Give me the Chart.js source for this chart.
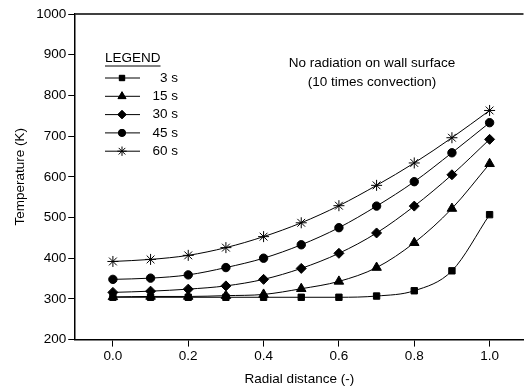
<!DOCTYPE html>
<html>
<head>
<meta charset="utf-8">
<script src="https://cdn.jsdelivr.net/npm/chart.js@4/dist/chart.umd.min.js"></script>
<style>
  html, body { margin: 0; padding: 0; background: #fff; overflow: hidden; }
</style>
</head>
<body>
<canvas id="tempChart" width="530" height="387"></canvas>
<script>
const radial = [0.0, 0.1, 0.2, 0.3, 0.4, 0.5, 0.6, 0.7, 0.8, 0.9, 1.0];
const t3s  = [304, 304, 304, 304, 304, 304, 304, 307, 320, 369, 507];
const t15s = [305, 306, 306, 308, 311, 325, 343, 377, 438, 522, 632];
const t30s = [316, 319, 324, 332, 348, 375, 412, 462, 528, 605, 692];
const t45s = [348, 351, 359, 377, 400, 433, 475, 528, 588, 659, 733];
const t60s = [392, 397, 407, 426, 453, 487, 529, 579, 634, 696, 763];
const seriesLabels = ["3 s", "15 s", "30 s", "45 s", "60 s"];
const yTicks = [200, 300, 400, 500, 600, 700, 800, 900, 1000];
const xTicks = [0.0, 0.2, 0.4, 0.6, 0.8, 1.0];

const FONT = "Arial, 'Liberation Sans', sans-serif";
const FSIZE = 13.5;

function toPoints(vals) {
    return radial.map((x, i) => ({ x: x, y: vals[i] }));
}

const styles = [
    { pointStyle: "rect", pointRadius: 4.5 },
    { pointStyle: "triangle", pointRadius: 5.5 },
    { pointStyle: "rectRot", pointRadius: 5 },
    { pointStyle: "circle", pointRadius: 4.2 },
    { pointStyle: "star", pointRadius: 5.5 },
];

const datasets = [t3s, t15s, t30s, t45s, t60s].map((vals, i) => ({
    label: seriesLabels[i],
    data: toPoints(vals),
    borderColor: "#000",
    backgroundColor: "#000",
    pointBackgroundColor: "#000",
    pointBorderColor: "#000",
    pointBorderWidth: 1,
    borderWidth: 1,
    cubicInterpolationMode: "monotone",
    pointStyle: styles[i].pointStyle,
    pointRadius: styles[i].pointRadius,
}));

// frame line on top of the plot
const framePlugin = {
    id: "frame",
    afterDraw(chart) {
        const { ctx, chartArea: a } = chart;
        ctx.save();
        ctx.strokeStyle = "#000";
        ctx.lineWidth = 1.5;
        ctx.beginPath();
        ctx.moveTo(a.left, a.top);
        ctx.lineTo(a.right, a.top);
        ctx.stroke();
        ctx.restore();
    },
};

// legend box and note drawn inside the plot
const notesPlugin = {
    id: "notes",
    afterDraw(chart) {
        const ctx = chart.ctx;
        ctx.save();
        ctx.fillStyle = "#000";
        ctx.strokeStyle = "#000";
        ctx.font = FSIZE + "px " + FONT;
        ctx.textBaseline = "middle";

        ctx.textAlign = "left";
        ctx.fillText("LEGEND", 105, 58);
        const w = ctx.measureText("LEGEND").width;
        ctx.lineWidth = 1;
        ctx.beginPath();
        ctx.moveTo(105, 66);
        ctx.lineTo(105 + w, 66);
        ctx.stroke();

        chart.data.datasets.forEach((ds, i) => {
            const y = 78 + i * 18.3;
            ctx.lineWidth = 1;
            ctx.beginPath();
            ctx.moveTo(105, y);
            ctx.lineTo(140, y);
            ctx.stroke();
            Chart.helpers.drawPoint(ctx, {
                pointStyle: ds.pointStyle,
                radius: ds.pointRadius * 0.85,
                borderWidth: 1,
                rotation: 0,
            }, 122, y);
            ctx.fill();
            ctx.textAlign = "right";
            ctx.fillText(ds.label, 178, y);
        });

        ctx.textAlign = "center";
        ctx.fillText("No radiation on wall surface", 372, 63);
        ctx.fillText("(10 times convection)", 372, 82);
        ctx.restore();
    },
};

new Chart(document.getElementById("tempChart").getContext("2d"), {
    type: "line",
    data: { datasets: datasets },
    options: {
        responsive: false,
        animation: false,
        layout: { padding: { top: 14, right: 1, left: 12, bottom: 0 } },
        plugins: {
            legend: { display: false },
            tooltip: { enabled: false },
        },
        scales: {
            x: {
                type: "linear",
                min: -0.1,
                max: 1.09,
                afterBuildTicks: (axis) => { axis.ticks = xTicks.map((v) => ({ value: v })); },
                border: { color: "#000", width: 1.5 },
                grid: { drawOnChartArea: false, color: "#000", tickLength: 7, lineWidth: 1 },
                ticks: {
                    color: "#000",
                    font: { family: FONT, size: FSIZE },
                    padding: 2,
                    maxRotation: 0,
                    callback: (v) => v.toFixed(1),
                },
                title: {
                    display: true,
                    text: "Radial distance (-)",
                    color: "#000",
                    font: { family: FONT, size: FSIZE },
                    padding: { top: 4, bottom: 0 },
                },
            },
            y: {
                min: 200,
                max: 1000,
                afterBuildTicks: (axis) => { axis.ticks = yTicks.map((v) => ({ value: v })); },
                border: { color: "#000", width: 1.5 },
                grid: { drawOnChartArea: false, color: "#000", tickLength: 7, lineWidth: 1 },
                ticks: {
                    color: "#000",
                    font: { family: FONT, size: FSIZE },
                    padding: 2,
                    callback: (v) => String(v),
                },
                title: {
                    display: true,
                    text: "Temperature (K)",
                    color: "#000",
                    font: { family: FONT, size: FSIZE },
                    padding: { top: 0, bottom: 6 },
                },
            },
        },
    },
    plugins: [framePlugin, notesPlugin],
});
</script>
</body>
</html>
